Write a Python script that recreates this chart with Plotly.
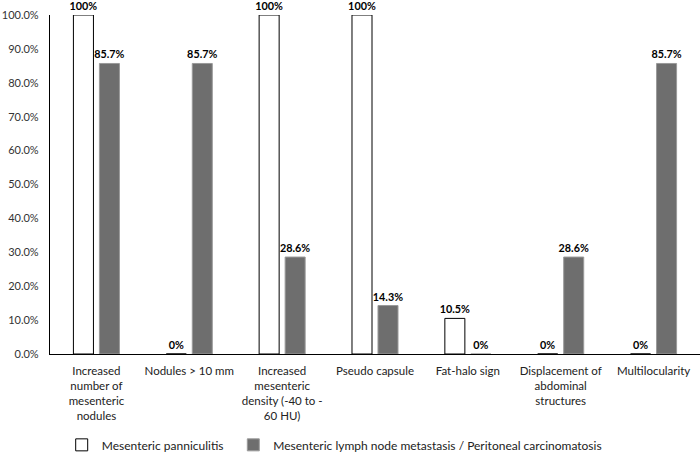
import plotly.graph_objects as go

categories = [
    "Increased<br>number of<br>mesenteric<br>nodules",
    "Nodules > 10 mm",
    "Increased<br>mesenteric<br>density (-40 to -<br>60 HU)",
    "Pseudo capsule",
    "Fat-halo sign",
    "Displacement of<br>abdominal<br>structures",
    "Multilocularity",
]
panniculitis = [1.0, 0.0, 1.0, 1.0, 0.105, 0.0, 0.0]
panniculitis_labels = ["100%", "0%", "100%", "100%", "10.5%", "0%", "0%"]
metastasis = [0.857, 0.857, 0.286, 0.143, 0.0, 0.286, 0.857]
metastasis_labels = ["85.7%", "85.7%", "28.6%", "14.3%", "0%", "28.6%", "85.7%"]

font_family = "Lato, Open Sans, sans-serif"
label_font = dict(color="black", size=10.8, family=font_family, weight="bold")

fig = go.Figure()
fig.add_trace(go.Bar(
    x=categories, y=panniculitis, name="Mesenteric panniculitis",
    marker=dict(color="white", line=dict(color="black", width=1)),
    text=panniculitis_labels, textposition="outside", cliponaxis=False,
    constraintext="none", textfont=label_font, legend="legend",
))
fig.add_trace(go.Bar(
    x=categories, y=metastasis,
    name="Mesenteric lymph node metastasis / Peritoneal carcinomatosis",
    marker=dict(color="#6e6e6e", line=dict(color="#9a9a9a", width=1)),
    text=metastasis_labels, textposition="outside", cliponaxis=False,
    constraintext="none", textfont=label_font, legend="legend2",
))

legend_font = dict(size=12, color="#222", family=font_family)
fig.update_layout(
    width=700, height=452,
    margin=dict(l=50, r=0, t=15, b=98, autoexpand=False),
    paper_bgcolor="white", plot_bgcolor="white",
    barmode="group", bargap=0.44, bargroupgap=0.23,
    font=dict(family=font_family, size=12, color="#333"),
    showlegend=True,
    legend=dict(
        orientation="h", x=0.018, xanchor="left", y=-0.268, yanchor="middle",
        itemwidth=30, font=legend_font,
    ),
    legend2=dict(
        orientation="h", x=0.282, xanchor="left", y=-0.268, yanchor="middle",
        itemwidth=30, font=legend_font,
    ),
)
fig.update_xaxes(
    showline=True, linecolor="black", linewidth=1.2,
    ticks="", tickfont=dict(size=11.5, color="#222"),
    tickangle=0, ticklabelstandoff=6,
)
fig.update_yaxes(
    range=[0, 1.0], dtick=0.1, tickformat=".1%",
    showline=True, linecolor="black", linewidth=1.2,
    showgrid=False, zeroline=False, ticks="",
    tickfont=dict(size=11, color="#333"), ticklabelstandoff=8,
)

fig.write_html("out.html")
